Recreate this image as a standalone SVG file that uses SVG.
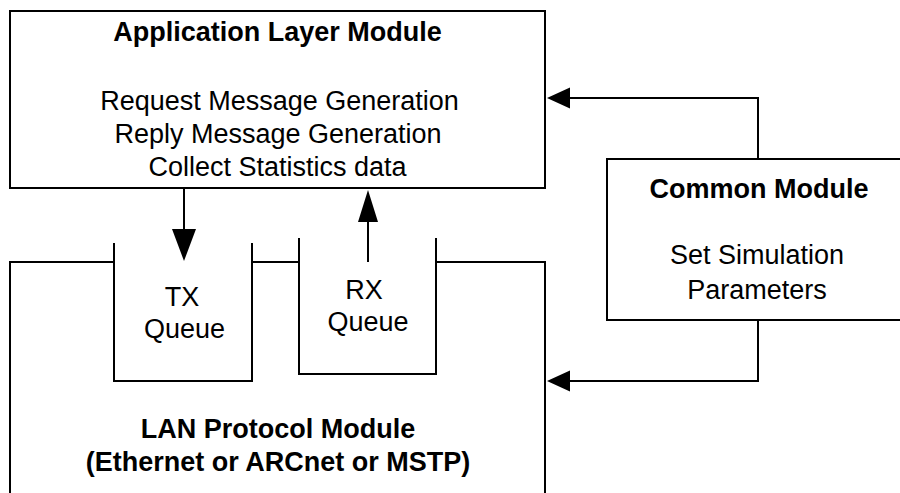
<svg xmlns="http://www.w3.org/2000/svg" width="900" height="493" viewBox="0 0 900 493">
<style>
.box{fill:#fff;stroke:#000;stroke-width:2}
.ln{fill:none;stroke:#000;stroke-width:2}
.hd{fill:#000;stroke:none}
text{font-family:"Liberation Sans",Arial,sans-serif;fill:#000;text-anchor:middle;font-size:27px}
.t{font-weight:bold}
</style>
<rect width="900" height="493" fill="#fff"/>
<g id="lan">
<path class="ln" d="M10,500 V262 H114 M252,262 H299 M436,262 H545 V500"/>
<text class="t" x="278" y="438">LAN Protocol Module</text>
<text class="t" x="278" y="471">(Ethernet or ARCnet or MSTP)</text>
</g>
<g id="txq">
<path class="ln" d="M114,243 V381 H252 V243"/>
<text x="182" y="306">TX</text>
<text x="184.5" y="338">Queue</text>
</g>
<g id="rxq">
<path class="ln" d="M299,238 V374 H436 V238"/>
<text x="364" y="299">RX</text>
<text x="368" y="331">Queue</text>
</g>
<g id="app">
<rect class="box" x="10" y="11" width="535" height="177"/>
<text class="t" x="277.5" y="41">Application Layer Module</text>
<text x="279.5" y="110">Request Message Generation</text>
<text x="278" y="143">Reply Message Generation</text>
<text x="277.5" y="176">Collect Statistics data</text>
</g>
<g id="common">
<rect class="box" x="607" y="159" width="310" height="161"/>
<text class="t" x="759" y="198">Common Module</text>
<text x="757" y="264">Set Simulation</text>
<text x="757" y="299">Parameters</text>
</g>
<g id="connectors">
<path class="ln" d="M184,188 V232"/>
<polygon class="hd" points="172,229 196,229 184,261"/>
<path class="ln" d="M368,262 V220"/>
<polygon class="hd" points="358,222 378,222 368,190"/>
<path class="ln" d="M758,159 V98 H566"/>
<polygon class="hd" points="547,98 570,87.5 570,108.5"/>
<path class="ln" d="M758,320 V381 H566"/>
<polygon class="hd" points="547,381 570,370.5 570,391.5"/>
</g>
</svg>
